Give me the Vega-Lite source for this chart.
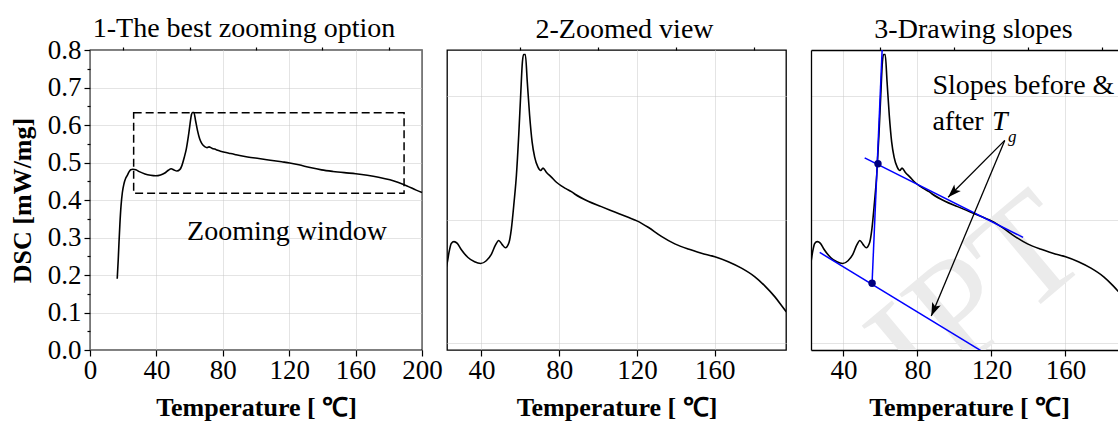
{
  "$schema": "https://vega.github.io/schema/vega-lite/v6.json",
  "padding": {"left": 8, "top": 14, "right": 0, "bottom": 0},
  "background": "white",
  "datasets": {
    "curve": [
      {"T": 16.4, "DSC": 0.19}, {"T": 17.0, "DSC": 0.24}, {"T": 17.5, "DSC": 0.29}, {"T": 18.0, "DSC": 0.335},
      {"T": 18.7, "DSC": 0.385}, {"T": 19.5, "DSC": 0.42}, {"T": 20.5, "DSC": 0.444}, {"T": 21.5, "DSC": 0.458},
      {"T": 22.45, "DSC": 0.4654}, {"T": 23.5, "DSC": 0.4749}, {"T": 24.5, "DSC": 0.4808}, {"T": 25.9, "DSC": 0.4822},
      {"T": 27.6, "DSC": 0.4808}, {"T": 29.7, "DSC": 0.4757}, {"T": 33.1, "DSC": 0.4694}, {"T": 36.5, "DSC": 0.4659},
      {"T": 39.6, "DSC": 0.4646}, {"T": 42.5, "DSC": 0.4668}, {"T": 45.1, "DSC": 0.4719}, {"T": 47.2, "DSC": 0.4794},
      {"T": 48.9, "DSC": 0.4832}, {"T": 50.6, "DSC": 0.48}, {"T": 52.3, "DSC": 0.4773}, {"T": 54.2, "DSC": 0.4816},
      {"T": 55.4, "DSC": 0.4924}, {"T": 56.8, "DSC": 0.514}, {"T": 58.0, "DSC": 0.5356}, {"T": 59.2, "DSC": 0.5681},
      {"T": 60.2, "DSC": 0.6005}, {"T": 61.1, "DSC": 0.6275}, {"T": 61.7, "DSC": 0.6334}, {"T": 62.6, "DSC": 0.6334},
      {"T": 63.6, "DSC": 0.6113}, {"T": 64.8, "DSC": 0.5843}, {"T": 66.1, "DSC": 0.5626}, {"T": 67.4, "DSC": 0.5505},
      {"T": 69.1, "DSC": 0.5424}, {"T": 70.5, "DSC": 0.5397}, {"T": 71.7, "DSC": 0.5416}, {"T": 73.4, "DSC": 0.5383},
      {"T": 76.0, "DSC": 0.5343}, {"T": 78.6, "DSC": 0.5302}, {"T": 81.1, "DSC": 0.5272}, {"T": 83.7, "DSC": 0.5248},
      {"T": 86.3, "DSC": 0.5226}, {"T": 88.0, "DSC": 0.5207}, {"T": 94.9, "DSC": 0.5148}, {"T": 101.7, "DSC": 0.5105},
      {"T": 108.6, "DSC": 0.5062}, {"T": 115.5, "DSC": 0.5019}, {"T": 120.3, "DSC": 0.4988}, {"T": 125.8, "DSC": 0.4938},
      {"T": 132.6, "DSC": 0.4865}, {"T": 139.5, "DSC": 0.4804}, {"T": 146.4, "DSC": 0.4762}, {"T": 153.2, "DSC": 0.4729},
      {"T": 160.1, "DSC": 0.47}, {"T": 167.0, "DSC": 0.466}, {"T": 173.8, "DSC": 0.4608}, {"T": 180.7, "DSC": 0.4538},
      {"T": 185.8, "DSC": 0.4465}, {"T": 191.0, "DSC": 0.4376}, {"T": 196.5, "DSC": 0.4263}, {"T": 200.0, "DSC": 0.42}
    ],
    "slopes": [
      {"x": 55.5, "y": 0.4486, "x2": 61.6, "y2": 0.66},
      {"x": 51.5, "y": 0.5499, "x2": 137.1, "y2": 0.4857},
      {"x": 27.2, "y": 0.4735, "x2": 114.5, "y2": 0.394}
    ],
    "dots": [{"x": 58.7, "y": 0.5451}, {"x": 55.5, "y": 0.4486}],
    "arrows": [
      {"x": 127.2, "y": 0.564, "x2": 96.6, "y2": 0.5181},
      {"x": 127.2, "y": 0.564, "x2": 87.5, "y2": 0.4222}
    ]
  },
  "spacing": 25,
  "bounds": "flush",
  "hconcat": [
    {
      "width": 332,
      "height": 300,
      "title": {"text": "1-The best zooming option", "dx": -12, "offset": -7},
      "layer": [
        {
          "data": {"name": "curve"},
          "mark": {"type": "line", "color": "black", "strokeWidth": 1.6, "interpolate": "monotone"},
          "encoding": {
            "x": {"field": "T", "type": "quantitative", "scale": {"domain": [0, 200], "nice": false, "zero": false},
              "axis": {"values": [0, 40, 80, 120, 160, 200], "tickSize": 6, "grid": true, "title": "Temperature [ ℃]", "labelPadding": 1, "titlePadding": 11}},
            "y": {"field": "DSC", "type": "quantitative", "scale": {"domain": [0, 0.8], "nice": false, "zero": false},
              "axis": {"values": [0, 0.1, 0.2, 0.3, 0.4, 0.5, 0.6, 0.7, 0.8], "format": ".1f", "tickSize": 6, "grid": true, "title": "DSC [mW/mg]", "labelPadding": 3, "titlePadding": 12}}
          }
        },
        {
          "data": {"values": [{"x1": 26.3, "x2": 189.2, "y1": 0.418, "y2": 0.633}]},
          "mark": {"type": "rect", "fillOpacity": 0, "stroke": "black", "strokeWidth": 1.5, "strokeDash": [8, 4]},
          "encoding": {
            "x": {"field": "x1", "type": "quantitative", "scale": {"domain": [0, 200], "nice": false, "zero": false},
              "axis": {"values": [20, 60, 100, 140, 180], "tickSize": 3, "labels": false, "grid": false, "title": null}},
            "x2": {"field": "x2"},
            "y": {"field": "y1", "type": "quantitative", "scale": {"domain": [0, 0.8], "nice": false, "zero": false},
              "axis": {"values": [0.05, 0.15, 0.25, 0.35, 0.45, 0.55, 0.65, 0.75], "tickSize": 3, "labels": false, "grid": false, "title": null, "orient": "left"}},
            "y2": {"field": "y2"}
          }
        },
        {
          "data": {"values": [{"x": 58.5, "y": 0.293, "label": "Zooming window"}]},
          "mark": {"type": "text", "align": "left", "baseline": "alphabetic", "font": "Liberation Serif", "fontSize": 28, "color": "black"},
          "encoding": {
            "x": {"field": "x", "type": "quantitative", "axis": null},
            "y": {"field": "y", "type": "quantitative", "axis": null},
            "text": {"field": "label"}
          }
        }
      ],
      "resolve": {"axis": {"x": "independent", "y": "independent"}}
    },
    {
      "width": 339,
      "height": 300,
      "title": {"text": "2-Zoomed view", "dx": 8, "offset": 2},
      "layer": [
        {
          "data": {"name": "curve"},
          "mark": {"type": "line", "color": "black", "strokeWidth": 1.6, "interpolate": "monotone", "clip": true},
          "encoding": {
            "x": {"field": "T", "type": "quantitative", "scale": {"domain": [22.3, 196.7], "nice": false, "zero": false},
              "axis": {"values": [40, 80, 120, 160], "tickSize": 6, "grid": true, "title": "Temperature [ ℃]", "labelPadding": 1, "titlePadding": 11}},
            "y": {"field": "DSC", "type": "quantitative", "scale": {"domain": [0.3947, 0.637], "nice": false, "zero": false},
              "axis": {"values": [0.4, 0.5, 0.6], "ticks": false, "labels": false, "grid": true, "title": null}}
          }
        },
        {
          "data": {"values": [{"x": 100}]},
          "mark": {"type": "rule", "opacity": 0},
          "encoding": {
            "x": {"field": "x", "type": "quantitative", "scale": {"domain": [22.3, 196.7], "nice": false, "zero": false},
              "axis": {"values": [60, 100, 140, 180], "tickSize": 3, "labels": false, "grid": false, "title": null}}
          }
        }
      ],
      "resolve": {"axis": {"x": "independent"}}
    },
    {
      "width": 307,
      "height": 300,
      "view": {"stroke": null},
      "title": {"text": "3-Drawing slopes", "dx": 9, "offset": 2},
      "layer": [
        {
          "data": {"values": [{"x": 112.8, "y": 0.437, "label": "IPT"}]},
          "mark": {"type": "text", "align": "center", "baseline": "middle", "font": "Liberation Serif", "fontSize": 150, "angle": -40, "color": "#ebebeb", "clip": true},
          "encoding": {
            "x": {"field": "x", "type": "quantitative", "scale": {"domain": [22.5, 188.4], "nice": false, "zero": false}, "axis": null},
            "y": {"field": "y", "type": "quantitative", "scale": {"domain": [0.3947, 0.637], "nice": false, "zero": false}, "axis": null},
            "text": {"field": "label"}
          }
        },
        {
          "data": {"name": "curve"},
          "mark": {"type": "line", "color": "black", "strokeWidth": 1.6, "interpolate": "monotone", "clip": true},
          "encoding": {
            "x": {"field": "T", "type": "quantitative", "scale": {"domain": [22.5, 188.4], "nice": false, "zero": false},
              "axis": {"values": [40, 80, 120, 160], "tickSize": 6, "grid": true, "domain": true, "title": "Temperature [ ℃]", "labelPadding": 1, "titlePadding": 11, "titleX": 158}},
            "y": {"field": "DSC", "type": "quantitative", "scale": {"domain": [0.3947, 0.637], "nice": false, "zero": false},
              "axis": {"values": [0.4, 0.5, 0.6], "ticks": false, "labels": false, "grid": true, "domain": true, "title": null}}
          }
        },
        {
          "data": {"name": "slopes"},
          "mark": {"type": "rule", "color": "#0000ff", "strokeWidth": 1.5, "clip": true},
          "encoding": {
            "x": {"field": "x", "type": "quantitative", "scale": {"domain": [22.5, 188.4], "nice": false, "zero": false},
              "axis": {"values": [60, 100, 140, 180], "tickSize": 3, "labels": false, "grid": false, "title": null}},
            "y": {"field": "y", "type": "quantitative", "axis": null},
            "x2": {"field": "x2"},
            "y2": {"field": "y2"}
          }
        },
        {
          "data": {"name": "dots"},
          "mark": {"type": "circle", "color": "#000080", "size": 55, "opacity": 1},
          "encoding": {
            "x": {"field": "x", "type": "quantitative",
              "axis": {"orient": "top", "labels": false, "ticks": false, "grid": false, "domain": true, "title": null}},
            "y": {"field": "y", "type": "quantitative", "axis": null}
          }
        },
        {
          "data": {"name": "arrows"},
          "mark": {"type": "rule", "color": "black", "strokeWidth": 1.3},
          "encoding": {
            "x": {"field": "x", "type": "quantitative", "axis": null},
            "y": {"field": "y", "type": "quantitative", "axis": null},
            "x2": {"field": "x2"},
            "y2": {"field": "y2"}
          }
        },
        {
          "data": {"name": "arrows"},
          "transform": [{"filter": "datum.x2 > 90"}],
          "mark": {"type": "point", "shape": "M0,0L-0.45,1.3L0,1L0.45,1.3Z", "filled": true, "color": "black", "opacity": 1, "size": 420, "angle": 225},
          "encoding": {
            "x": {"field": "x2", "type": "quantitative", "axis": null},
            "y": {"field": "y2", "type": "quantitative", "axis": null}
          }
        },
        {
          "data": {"name": "arrows"},
          "transform": [{"filter": "datum.x2 < 90"}],
          "mark": {"type": "point", "shape": "M0,0L-0.45,1.3L0,1L0.45,1.3Z", "filled": true, "color": "black", "opacity": 1, "size": 420, "angle": 202.75},
          "encoding": {
            "x": {"field": "x2", "type": "quantitative", "axis": null},
            "y": {"field": "y2", "type": "quantitative", "axis": null}
          }
        },
        {
          "data": {"values": [{"x": 88.1, "y": 0.6018, "label": "Slopes before &"}, {"x": 88.1, "y": 0.5721, "label": "after"}]},
          "mark": {"type": "text", "align": "left", "baseline": "alphabetic", "font": "Liberation Serif", "fontSize": 28, "color": "black", "clip": true},
          "encoding": {
            "x": {"field": "x", "type": "quantitative", "axis": null},
            "y": {"field": "y", "type": "quantitative", "axis": null},
            "text": {"field": "label"}
          }
        },
        {
          "data": {"values": [{"x": 120.3, "y": 0.5721, "label": "T"}]},
          "mark": {"type": "text", "align": "left", "baseline": "alphabetic", "font": "Liberation Serif", "fontSize": 28, "fontStyle": "italic", "color": "black", "clip": true},
          "encoding": {
            "x": {"field": "x", "type": "quantitative", "axis": null},
            "y": {"field": "y", "type": "quantitative", "axis": null},
            "text": {"field": "label"}
          }
        },
        {
          "data": {"values": [{"x": 129, "y": 0.5626, "label": "g"}]},
          "mark": {"type": "text", "align": "left", "baseline": "alphabetic", "font": "Liberation Serif", "fontSize": 17, "fontStyle": "italic", "color": "black", "clip": true},
          "encoding": {
            "x": {"field": "x", "type": "quantitative", "axis": null},
            "y": {"field": "y", "type": "quantitative", "axis": null},
            "text": {"field": "label"}
          }
        }
      ],
      "resolve": {"axis": {"x": "independent", "y": "independent"}}
    }
  ],
  "config": {
    "view": {"stroke": "black", "strokeWidth": 1.3},
    "axis": {
      "domain": false, "domainColor": "black", "domainWidth": 1.3,
      "tickColor": "black", "tickWidth": 1.2,
      "labelFont": "Liberation Serif", "labelFontSize": 27, "labelColor": "black", "labelFlush": false, "labelOverlap": false,
      "titleFont": "Liberation Serif", "titleFontSize": 26, "titleFontWeight": "bold", "titleColor": "black",
      "gridColor": "#c8c8c8", "gridDash": [1, 1], "gridWidth": 1
    },
    "title": {"font": "Liberation Serif", "fontSize": 28, "fontWeight": "normal", "color": "black", "baseline": "alphabetic"},
    "text": {"font": "Liberation Serif"}
  }
}
